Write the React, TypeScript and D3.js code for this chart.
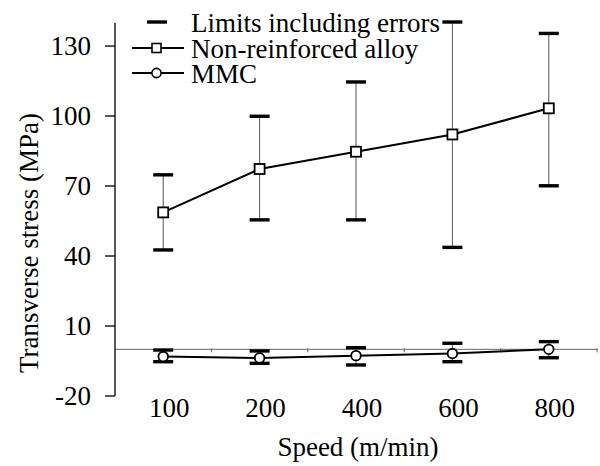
import React from "react";
import * as d3 from "d3";

const categories = ["100", "200", "400", "600", "800"];
const alloyValues = [58.7, 77.3, 84.7, 92.1, 103.3];
const alloyUpper = [74.8, 99.9, 114.6, 140.3, 135.4];
const alloyLower = [42.6, 55.5, 55.5, 43.7, 70.1];
const mmcValues = [-3.1, -3.7, -2.7, -1.8, 0.0];
const mmcUpper = [-0.3, -0.7, 0.7, 2.6, 3.3];
const mmcLower = [-5.3, -6.0, -6.7, -5.3, -3.6];
const yTicks = [-20, 10, 40, 70, 100, 130];
const legendLabels = ["Limits including errors", "Non-reinforced alloy", "MMC"];
const xTitle = "Speed (m/min)";
const yTitle = "Transverse stress (MPa)";

const W = 600;
const H = 466;
const FONT = '"Liberation Serif", "Times New Roman", Times, serif';
const FS = 27;
const txt = { fontFamily: FONT, fontSize: FS } as React.CSSProperties;

export default function App() {
  const x = d3.scaleBand<string>().domain(categories).range([115, 597]).paddingInner(0).paddingOuter(0);
  const y = d3.scaleLinear().domain([-20, 140]).range([396, 22.7]);
  const cx = (c: string) => (x(c) as number) + x.bandwidth() / 2;
  const line = d3
    .line<[string, number]>()
    .x((d) => cx(d[0]))
    .y((d) => y(d[1]))
    .curve(d3.curveLinear);

  const alloyPts = categories.map((c, i) => [c, alloyValues[i]] as [string, number]);
  const mmcPts = categories.map((c, i) => [c, mmcValues[i]] as [string, number]);
  const capW = 20;
  const capT = 3.4;

  const errorBars = (upper: number[], lower: number[], key: string) =>
    categories.map((c, i) => (
      <g key={key + c}>
        <line x1={cx(c)} x2={cx(c)} y1={y(upper[i])} y2={y(lower[i])} stroke="#555" strokeWidth={1} />
        <line x1={cx(c) - capW / 2} x2={cx(c) + capW / 2} y1={y(upper[i])} y2={y(upper[i])} stroke="#000" strokeWidth={capT} />
        <line x1={cx(c) - capW / 2} x2={cx(c) + capW / 2} y1={y(lower[i])} y2={y(lower[i])} stroke="#000" strokeWidth={capT} />
      </g>
    ));

  const x0 = x.range()[0];
  const x1 = x.range()[1];

  return (
    <svg width={W} height={H} style={{ position: "absolute", left: 0, top: 0, background: "#fff" }}>
      <rect x={0} y={0} width={W} height={H} fill="#fff" />
      {/* x axis at zero */}
      <line x1={x0} x2={x1 + 1} y1={y(0)} y2={y(0)} stroke="#666" strokeWidth={1} />
      {categories.map((c) => (
        <line key={"xt" + c} x1={(x(c) as number) + x.bandwidth()} x2={(x(c) as number) + x.bandwidth()} y1={y(0) - 1} y2={y(0) + 3} stroke="#666" strokeWidth={1} />
      ))}
      {/* y axis */}
      <line x1={x0} x2={x0} y1={y(-20)} y2={y(140)} stroke="#000" strokeWidth={1.3} />
      {yTicks.map((t) => (
        <g key={"yt" + t}>
          <line x1={x0 - 10} x2={x0} y1={y(t)} y2={y(t)} stroke="#000" strokeWidth={1.3} />
          <text x={x0 - 24} y={y(t) + 9} textAnchor="end" style={txt} fill="#000">
            {t}
          </text>
        </g>
      ))}
      {categories.map((c) => (
        <text key={"xl" + c} x={cx(c) + 6} y={417} textAnchor="middle" style={txt} fill="#000">
          {c}
        </text>
      ))}
      <text x={358} y={456} textAnchor="middle" style={txt} fill="#000">
        {xTitle}
      </text>
      <text transform={`translate(38,243) rotate(-90)`} textAnchor="middle" style={txt} fill="#000">
        {yTitle}
      </text>

      {/* error bars */}
      {errorBars(alloyUpper, alloyLower, "a")}
      {errorBars(mmcUpper, mmcLower, "m")}

      {/* lines */}
      <path d={line(alloyPts) || ""} fill="none" stroke="#000" strokeWidth={2} />
      <path d={line(mmcPts) || ""} fill="none" stroke="#000" strokeWidth={2} />
      {alloyPts.map((d) => (
        <rect key={"as" + d[0]} x={cx(d[0]) - 5} y={y(d[1]) - 5} width={10} height={10} fill="#fff" stroke="#000" strokeWidth={1.8} />
      ))}
      {mmcPts.map((d) => (
        <circle key={"mc" + d[0]} cx={cx(d[0])} cy={y(d[1])} r={4.8} fill="#fff" stroke="#000" strokeWidth={1.8} />
      ))}

      {/* legend */}
      <line x1={147} x2={167} y1={22} y2={22} stroke="#000" strokeWidth={capT} />
      <line x1={132} x2={184} y1={48} y2={48} stroke="#000" strokeWidth={2} />
      <rect x={152} y={43.5} width={9} height={9} fill="#fff" stroke="#000" strokeWidth={1.6} />
      <line x1={132} x2={184} y1={73} y2={73} stroke="#000" strokeWidth={2} />
      <circle cx={156.5} cy={73} r={4.6} fill="#fff" stroke="#000" strokeWidth={1.6} />
      {legendLabels.map((l, i) => (
        <text key={l} x={191} y={32 + i * 25.5} style={txt} fill="#000">
          {l}
        </text>
      ))}
    </svg>
  );
}
